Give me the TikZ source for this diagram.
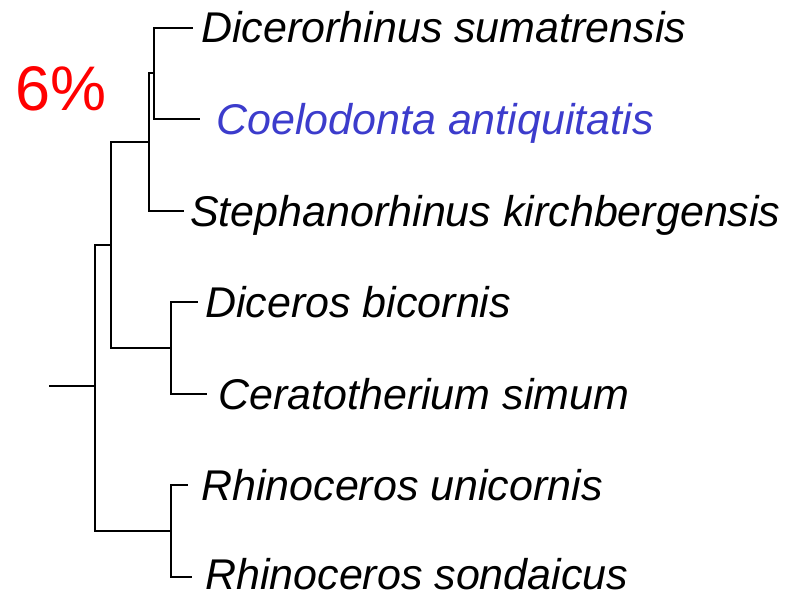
\documentclass[tikz,border=0pt]{standalone}
\usepackage{fontspec}
\setmainfont{Liberation Sans}
\definecolor{fossilblue}{RGB}{60,60,204}
\begin{document}
\begin{tikzpicture}[x=1pt,y=-1pt,
  branch/.style={line width=2.6pt,black},
  leaf/.style={font=\fontsize{43}{48}\selectfont\itshape, anchor=base west, inner sep=0pt},
  pct/.style={font=\fontsize{63}{70}\selectfont, text=red, anchor=base west, inner sep=0pt}]
\useasboundingbox (0,0) rectangle (800,594);
% internal nodes
\coordinate (stem) at (49,386);
\coordinate (root) at (95,386);
\coordinate (n1) at (111,245);
\coordinate (n2) at (149,142);
\coordinate (n3) at (154,73);
\coordinate (n4) at (171,348);
\coordinate (n5) at (171,531);
% leaf tips
\coordinate (tDs) at (193,28);
\coordinate (tCa) at (200,119);
\coordinate (tSk) at (184,211);
\coordinate (tDb) at (198,302);
\coordinate (tCs) at (207,394);
\coordinate (tRu) at (188,485);
\coordinate (tRs) at (192,577);
% branches
\draw[branch] (stem) -- (root);
\draw[branch] (root) |- (n1);
\draw[branch] (root) |- (n5);
\draw[branch] (n1) |- (n2);
\draw[branch] (n1) |- (n4);
\draw[branch] (n2) |- (n3);
\draw[branch] (n2) |- (tSk);
\draw[branch] (n3) |- (tDs);
\draw[branch] (n3) |- (tCa);
\draw[branch] (n4) |- (tDb);
\draw[branch] (n4) |- (tCs);
\draw[branch] (n5) |- (tRu);
\draw[branch] (n5) |- (tRs);
% labels
\node[leaf] (Ds) at (201,43) {Dicerorhinus sumatrensis};
\node[leaf, text=fossilblue] (Ca) at (216,134) {Coelodonta antiquitatis};
\node[leaf] (Sk) at (190,226) {Stephanorhinus kirchbergensis};
\node[leaf] (Db) at (205,317) {Diceros bicornis};
\node[leaf] (Cs) at (218,409) {Ceratotherium simum};
\node[leaf] (Ru) at (201,500) {Rhinoceros unicornis};
\node[leaf] (Rs) at (205,589) {Rhinoceros sondaicus};
\node[pct] (p) at (15,110) {6\%};
\end{tikzpicture}
\end{document}
